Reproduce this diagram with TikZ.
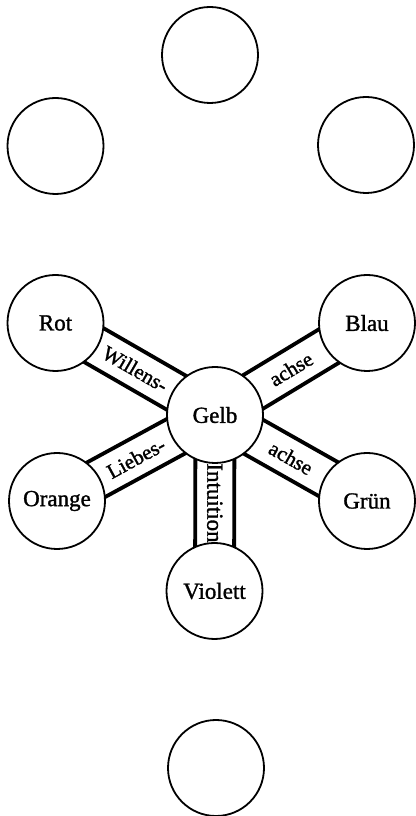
\documentclass[tikz,border=0pt]{standalone}
\usepackage{fontspec}
\setmainfont{Liberation Serif}[FakeBold=1.3]
\usetikzlibrary{calc,backgrounds}
\tikzset{
  ring/.style={circle, draw=black, line width=1.8pt, fill=white, minimum size=96pt, inner sep=0pt,
    font=\fontsize{23}{23}\selectfont},
  bandline/.style={line width=3.8pt, black},
  bandlabel/.style={font=\fontsize{21}{21}\selectfont, inner sep=0pt},
}
\begin{document}
\begin{tikzpicture}[x=1pt,y=1pt]
\useasboundingbox (0,0) rectangle (415,816);
\node[ring] (top) at (210,761) {};
\node[ring] (left) at (55.5,670) {};
\node[ring] (right) at (366,671) {};
\node[ring] (rot) at (55.5,493) {Rot};
\node[ring] (blau) at (367,493) {Blau};
\node[ring] (gelb) at (215,401) {Gelb};
\node[ring] (orange) at (57,315) {Orange};
\node[ring] (gruen) at (367,315) {Grün};
\node[ring] (violett) at (214.5,225) {Violett};
\node[ring] (bottom) at (216,48) {};
\begin{scope}[on background layer]
  \foreach \a in {rot,blau,orange,gruen,violett}{
    \draw[bandline] ($(\a)!19.5pt!90:(gelb)$) -- ($(gelb)!19.5pt!-90:(\a)$);
    \draw[bandline] ($(\a)!19.5pt!-90:(gelb)$) -- ($(gelb)!19.5pt!90:(\a)$);
  }
\end{scope}
\path (rot) -- node[bandlabel, sloped] (lw) {Willens-} (gelb);
\path (blau) -- node[bandlabel, sloped] (la1) {achse} (gelb);
\path (orange) -- node[bandlabel, sloped] (ll) {Liebes-} (gelb);
\path (gruen) -- node[bandlabel, sloped] (la2) {achse} (gelb);
\path (gelb) -- node[bandlabel, rotate=-90, font=\fontsize{23}{23}\selectfont] (li) {Intuition} (violett);
\end{tikzpicture}
\end{document}
